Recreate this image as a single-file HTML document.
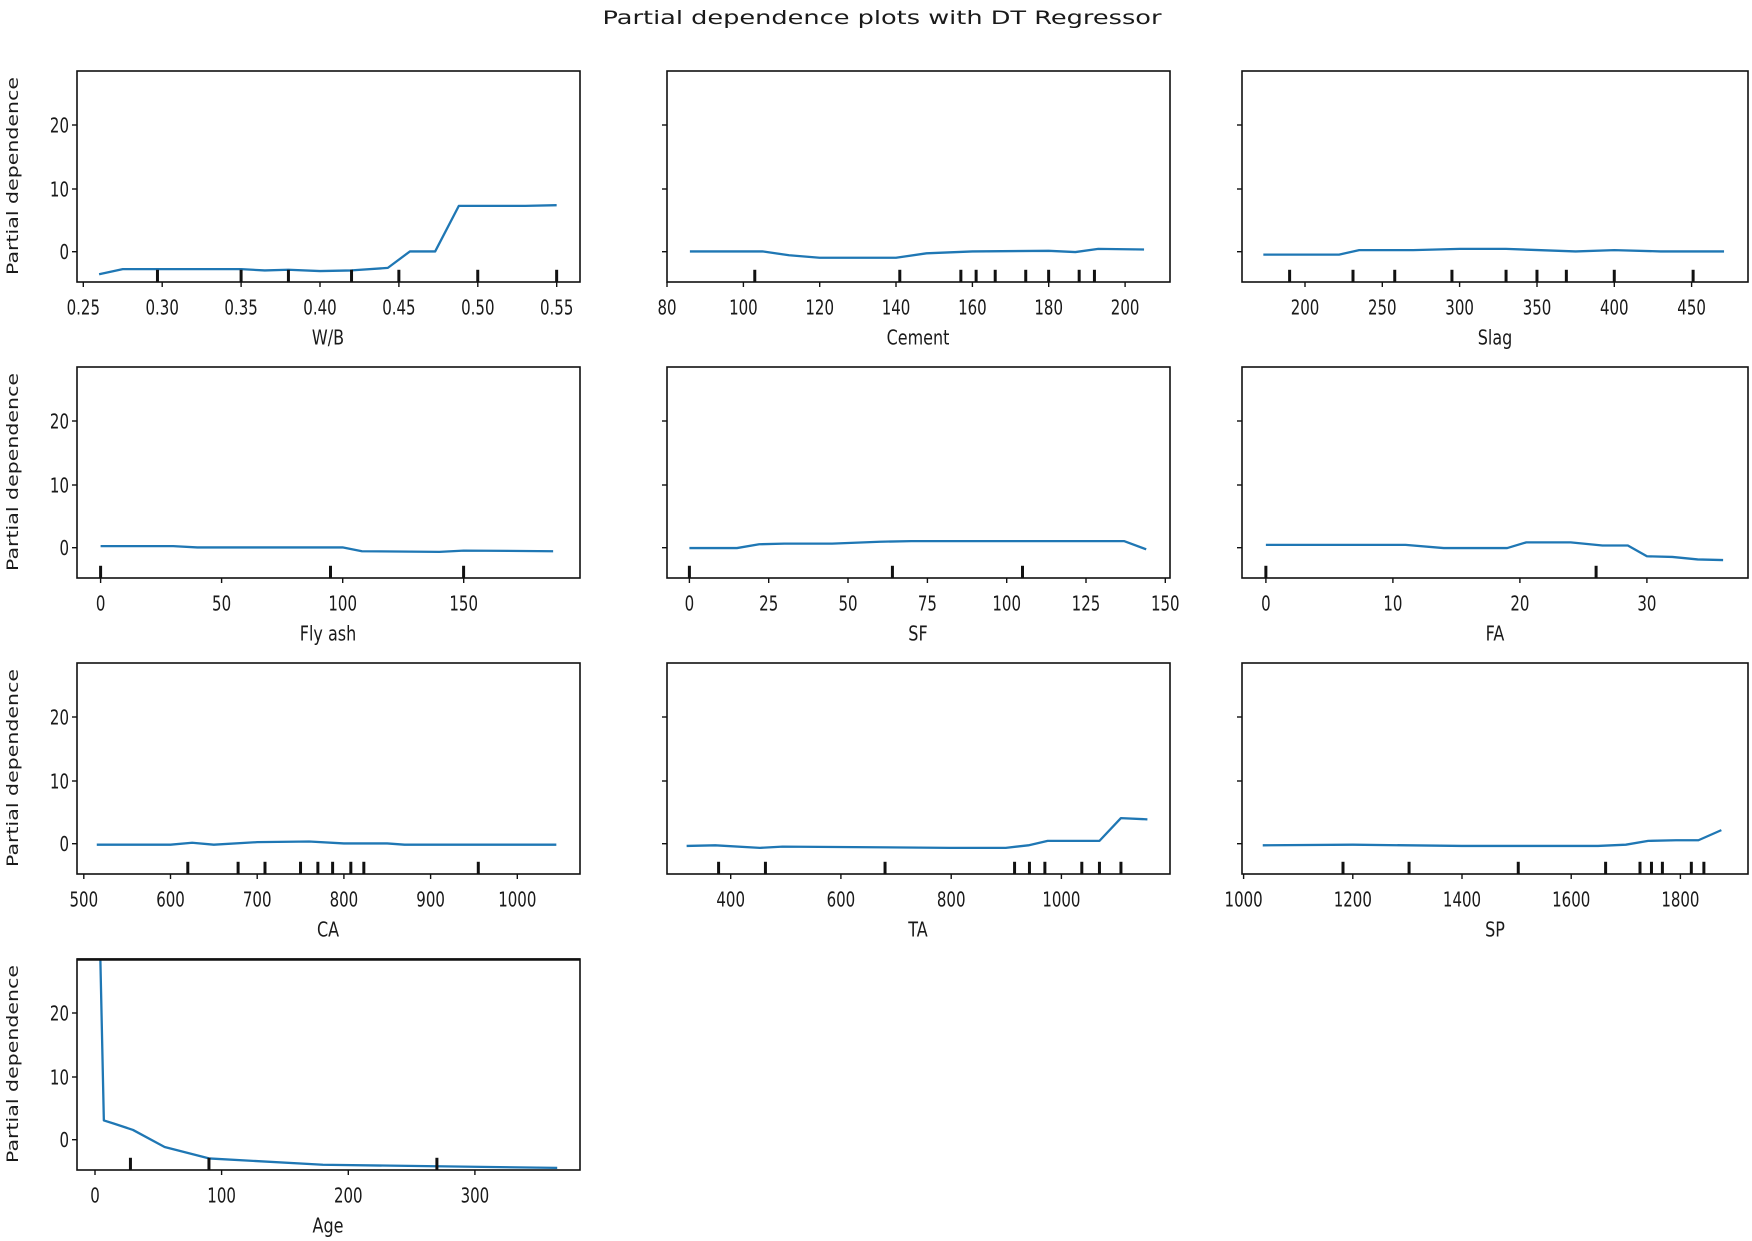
<!DOCTYPE html>
<html><head><meta charset="utf-8"><style>
html,body{margin:0;padding:0;background:#fff;}
svg{display:block;font-family:"DejaVu Sans","Liberation Sans",sans-serif;}
.t{font-size:15px;transform-box:fill-box;transform-origin:center;transform:scaleY(1.35);fill:#1a1a1a;}
.xl{font-size:16px;transform-box:fill-box;transform-origin:center;transform:scaleY(1.3);fill:#1a1a1a;}
.ln{fill:none;stroke:#1f77b4;stroke-width:2.3;vector-effect:non-scaling-stroke;stroke-linejoin:round;}
.rug{stroke:#111;}
.ax{fill:none;stroke:#111;stroke-width:1.6;}
.tk{stroke:#111;stroke-width:1.4;}
</style></head><body>
<svg width="1752" height="1241" viewBox="0 0 1752 1241">
<text x="882" y="24" text-anchor="middle" font-size="19" textLength="559" lengthAdjust="spacingAndGlyphs" fill="#1a1a1a">Partial dependence plots with DT Regressor</text>

<text transform="translate(18,176) rotate(-90)" text-anchor="middle" font-size="16" textLength="198" lengthAdjust="spacingAndGlyphs" fill="#1a1a1a">Partial dependence</text>
<text transform="translate(18,472) rotate(-90)" text-anchor="middle" font-size="16" textLength="198" lengthAdjust="spacingAndGlyphs" fill="#1a1a1a">Partial dependence</text>
<text transform="translate(18,768) rotate(-90)" text-anchor="middle" font-size="16" textLength="198" lengthAdjust="spacingAndGlyphs" fill="#1a1a1a">Partial dependence</text>
<text transform="translate(18,1064) rotate(-90)" text-anchor="middle" font-size="16" textLength="198" lengthAdjust="spacingAndGlyphs" fill="#1a1a1a">Partial dependence</text>

<!-- Panel W/B -->
<g transform="translate(77,71)">
<svg x="0" y="0" width="503" height="211" viewBox="0.246 -28.5 0.3188 33.33" preserveAspectRatio="none" overflow="hidden">
<polyline class="ln" points="0.26,3.6 0.275,2.8 0.35,2.8 0.365,3.0 0.38,2.9 0.40,3.1 0.42,3.0 0.443,2.6 0.457,0 0.473,0 0.488,-7.2 0.53,-7.2 0.55,-7.3"/>
<g class="rug" style="stroke-width:0.0019"><line x1="0.297" x2="0.297" y1="4.9" y2="2.9"/><line x1="0.35" x2="0.35" y1="4.9" y2="2.9"/><line x1="0.38" x2="0.38" y1="4.9" y2="2.9"/><line x1="0.42" x2="0.42" y1="4.9" y2="2.9"/><line x1="0.45" x2="0.45" y1="4.9" y2="2.9"/><line x1="0.50" x2="0.50" y1="4.9" y2="2.9"/><line x1="0.55" x2="0.55" y1="4.9" y2="2.9"/></g>
</svg>
<rect class="ax" x="0" y="0" width="503" height="211"/>
<g class="tk"><line x1="0" x2="-5" y1="54" y2="54"/><line x1="0" x2="-5" y1="118" y2="118"/><line x1="0" x2="-5" y1="180.7" y2="180.7"/>
<line x1="6.3" x2="6.3" y1="211" y2="216"/><line x1="85.2" x2="85.2" y1="211" y2="216"/><line x1="164.1" x2="164.1" y1="211" y2="216"/><line x1="243" x2="243" y1="211" y2="216"/><line x1="321.9" x2="321.9" y1="211" y2="216"/><line x1="400.8" x2="400.8" y1="211" y2="216"/><line x1="479.7" x2="479.7" y1="211" y2="216"/></g>
<g text-anchor="end"><text class="t" x="-8" y="60">20</text><text class="t" x="-8" y="124">10</text><text class="t" x="-8" y="186.5">0</text></g>
<g text-anchor="middle"><text class="t" x="6.3" y="242">0.25</text><text class="t" x="85.2" y="242">0.30</text><text class="t" x="164.1" y="242">0.35</text><text class="t" x="243" y="242">0.40</text><text class="t" x="321.9" y="242">0.45</text><text class="t" x="400.8" y="242">0.50</text><text class="t" x="479.7" y="242">0.55</text>
<text class="xl" x="251" y="272">W/B</text></g>
</g>

<!-- Panel Cement -->
<g transform="translate(667,71)">
<svg x="0" y="0" width="503" height="211" viewBox="80 -28.5 131.8 33.33" preserveAspectRatio="none" overflow="hidden">
<polyline class="ln" points="86,0 105,0 112,0.6 120,1 140,1 148,0.3 160,0 180,-0.1 187,0.1 193,-0.4 205,-0.3"/>
<g class="rug" style="stroke-width:0.786"><line x1="103" x2="103" y1="4.9" y2="2.9"/><line x1="141" x2="141" y1="4.9" y2="2.9"/><line x1="157" x2="157" y1="4.9" y2="2.9"/><line x1="161" x2="161" y1="4.9" y2="2.9"/><line x1="166" x2="166" y1="4.9" y2="2.9"/><line x1="174" x2="174" y1="4.9" y2="2.9"/><line x1="180" x2="180" y1="4.9" y2="2.9"/><line x1="188" x2="188" y1="4.9" y2="2.9"/><line x1="192" x2="192" y1="4.9" y2="2.9"/></g>
</svg>
<rect class="ax" x="0" y="0" width="503" height="211"/>
<g class="tk"><line x1="0" x2="-5" y1="54" y2="54"/><line x1="0" x2="-5" y1="118" y2="118"/><line x1="0" x2="-5" y1="180.7" y2="180.7"/>
<line x1="0" x2="0" y1="211" y2="216"/><line x1="76.4" x2="76.4" y1="211" y2="216"/><line x1="152.7" x2="152.7" y1="211" y2="216"/><line x1="229" x2="229" y1="211" y2="216"/><line x1="305.4" x2="305.4" y1="211" y2="216"/><line x1="381.7" x2="381.7" y1="211" y2="216"/><line x1="458.1" x2="458.1" y1="211" y2="216"/></g>
<g text-anchor="middle"><text class="t" x="0" y="242">80</text><text class="t" x="76.4" y="242">100</text><text class="t" x="152.7" y="242">120</text><text class="t" x="229" y="242">140</text><text class="t" x="305.4" y="242">160</text><text class="t" x="381.7" y="242">180</text><text class="t" x="458.1" y="242">200</text>
<text class="xl" x="251" y="272">Cement</text></g>
</g>

<!-- Panel Slag -->
<g transform="translate(1242,71)">
<svg x="0" y="0" width="506" height="211" viewBox="159.2 -28.5 327.3 33.33" preserveAspectRatio="none" overflow="hidden">
<polyline class="ln" points="173,0.5 222,0.5 235,-0.2 270,-0.2 300,-0.4 330,-0.4 375,0 400,-0.2 430,0 471,0"/>
<g class="rug" style="stroke-width:1.94"><line x1="190" x2="190" y1="4.9" y2="2.9"/><line x1="231" x2="231" y1="4.9" y2="2.9"/><line x1="258" x2="258" y1="4.9" y2="2.9"/><line x1="295" x2="295" y1="4.9" y2="2.9"/><line x1="330" x2="330" y1="4.9" y2="2.9"/><line x1="350" x2="350" y1="4.9" y2="2.9"/><line x1="369" x2="369" y1="4.9" y2="2.9"/><line x1="400" x2="400" y1="4.9" y2="2.9"/><line x1="451" x2="451" y1="4.9" y2="2.9"/></g>
</svg>
<rect class="ax" x="0" y="0" width="506" height="211"/>
<g class="tk"><line x1="0" x2="-5" y1="54" y2="54"/><line x1="0" x2="-5" y1="118" y2="118"/><line x1="0" x2="-5" y1="180.7" y2="180.7"/>
<line x1="63" x2="63" y1="211" y2="216"/><line x1="140.3" x2="140.3" y1="211" y2="216"/><line x1="217.6" x2="217.6" y1="211" y2="216"/><line x1="295" x2="295" y1="211" y2="216"/><line x1="372.3" x2="372.3" y1="211" y2="216"/><line x1="449.6" x2="449.6" y1="211" y2="216"/></g>
<g text-anchor="middle"><text class="t" x="63" y="242">200</text><text class="t" x="140.3" y="242">250</text><text class="t" x="217.6" y="242">300</text><text class="t" x="295" y="242">350</text><text class="t" x="372.3" y="242">400</text><text class="t" x="449.6" y="242">450</text>
<text class="xl" x="253" y="272">Slag</text></g>
</g>

<!-- Panel Fly ash -->
<g transform="translate(77,367)">
<svg x="0" y="0" width="503" height="211" viewBox="-9.75 -28.5 207.85 33.33" preserveAspectRatio="none" overflow="hidden">
<polyline class="ln" points="0,-0.2 30,-0.2 40,0 100,0 108,0.6 140,0.7 150,0.5 187,0.6"/>
<g class="rug" style="stroke-width:1.24"><line x1="0" x2="0" y1="4.9" y2="2.9"/><line x1="95" x2="95" y1="4.9" y2="2.9"/><line x1="150" x2="150" y1="4.9" y2="2.9"/></g>
</svg>
<rect class="ax" x="0" y="0" width="503" height="211"/>
<g class="tk"><line x1="0" x2="-5" y1="54" y2="54"/><line x1="0" x2="-5" y1="118" y2="118"/><line x1="0" x2="-5" y1="180.7" y2="180.7"/>
<line x1="23.6" x2="23.6" y1="211" y2="216"/><line x1="144.6" x2="144.6" y1="211" y2="216"/><line x1="265.7" x2="265.7" y1="211" y2="216"/><line x1="386.7" x2="386.7" y1="211" y2="216"/></g>
<g text-anchor="end"><text class="t" x="-8" y="60">20</text><text class="t" x="-8" y="124">10</text><text class="t" x="-8" y="186.5">0</text></g>
<g text-anchor="middle"><text class="t" x="23.6" y="242">0</text><text class="t" x="144.6" y="242">50</text><text class="t" x="265.7" y="242">100</text><text class="t" x="386.7" y="242">150</text>
<text class="xl" x="251" y="272">Fly ash</text></g>
</g>

<!-- Panel SF -->
<g transform="translate(667,367)">
<svg x="0" y="0" width="503" height="211" viewBox="-7.06 -28.5 158.56 33.33" preserveAspectRatio="none" overflow="hidden">
<polyline class="ln" points="0,0.1 15,0.1 22,-0.5 30,-0.6 45,-0.6 60,-0.9 70,-1.0 90,-1.0 137,-1.0 144,0.3"/>
<g class="rug" style="stroke-width:0.946"><line x1="0" x2="0" y1="4.9" y2="2.9"/><line x1="64" x2="64" y1="4.9" y2="2.9"/><line x1="105" x2="105" y1="4.9" y2="2.9"/></g>
</svg>
<rect class="ax" x="0" y="0" width="503" height="211"/>
<g class="tk"><line x1="0" x2="-5" y1="54" y2="54"/><line x1="0" x2="-5" y1="118" y2="118"/><line x1="0" x2="-5" y1="180.7" y2="180.7"/>
<line x1="22.4" x2="22.4" y1="211" y2="216"/><line x1="101.7" x2="101.7" y1="211" y2="216"/><line x1="181" x2="181" y1="211" y2="216"/><line x1="260.4" x2="260.4" y1="211" y2="216"/><line x1="339.7" x2="339.7" y1="211" y2="216"/><line x1="419" x2="419" y1="211" y2="216"/><line x1="498.3" x2="498.3" y1="211" y2="216"/></g>
<g text-anchor="middle"><text class="t" x="22.4" y="242">0</text><text class="t" x="101.7" y="242">25</text><text class="t" x="181" y="242">50</text><text class="t" x="260.4" y="242">75</text><text class="t" x="339.7" y="242">100</text><text class="t" x="419" y="242">125</text><text class="t" x="498.3" y="242">150</text>
<text class="xl" x="251" y="272">SF</text></g>
</g>

<!-- Panel FA -->
<g transform="translate(1242,367)">
<svg x="0" y="0" width="506" height="211" viewBox="-1.88 -28.5 39.84 33.33" preserveAspectRatio="none" overflow="hidden">
<polyline class="ln" points="0,-0.4 11,-0.4 14,0.1 19,0.1 20.5,-0.8 24,-0.8 26.5,-0.3 28.5,-0.3 30,1.4 32,1.5 34,1.9 36,2.0"/>
<g class="rug" style="stroke-width:0.236"><line x1="0" x2="0" y1="4.9" y2="2.9"/><line x1="26" x2="26" y1="4.9" y2="2.9"/></g>
</svg>
<rect class="ax" x="0" y="0" width="506" height="211"/>
<g class="tk"><line x1="0" x2="-5" y1="54" y2="54"/><line x1="0" x2="-5" y1="118" y2="118"/><line x1="0" x2="-5" y1="180.7" y2="180.7"/>
<line x1="23.9" x2="23.9" y1="211" y2="216"/><line x1="150.9" x2="150.9" y1="211" y2="216"/><line x1="277.9" x2="277.9" y1="211" y2="216"/><line x1="404.9" x2="404.9" y1="211" y2="216"/></g>
<g text-anchor="middle"><text class="t" x="23.9" y="242">0</text><text class="t" x="150.9" y="242">10</text><text class="t" x="277.9" y="242">20</text><text class="t" x="404.9" y="242">30</text>
<text class="xl" x="253" y="272">FA</text></g>
</g>

<!-- Panel CA -->
<g transform="translate(77,663)">
<svg x="0" y="0" width="503" height="211" viewBox="492.2 -28.5 580.1 33.33" preserveAspectRatio="none" overflow="hidden">
<polyline class="ln" points="515,0.2 600,0.2 625,-0.1 650,0.2 700,-0.2 760,-0.3 800,0 850,0 870,0.2 1045,0.2"/>
<g class="rug" style="stroke-width:3.46"><line x1="620" x2="620" y1="4.9" y2="2.9"/><line x1="678" x2="678" y1="4.9" y2="2.9"/><line x1="709" x2="709" y1="4.9" y2="2.9"/><line x1="750" x2="750" y1="4.9" y2="2.9"/><line x1="770" x2="770" y1="4.9" y2="2.9"/><line x1="787" x2="787" y1="4.9" y2="2.9"/><line x1="808" x2="808" y1="4.9" y2="2.9"/><line x1="823" x2="823" y1="4.9" y2="2.9"/><line x1="955" x2="955" y1="4.9" y2="2.9"/></g>
</svg>
<rect class="ax" x="0" y="0" width="503" height="211"/>
<g class="tk"><line x1="0" x2="-5" y1="54" y2="54"/><line x1="0" x2="-5" y1="118" y2="118"/><line x1="0" x2="-5" y1="180.7" y2="180.7"/>
<line x1="6.8" x2="6.8" y1="211" y2="216"/><line x1="93.5" x2="93.5" y1="211" y2="216"/><line x1="180.2" x2="180.2" y1="211" y2="216"/><line x1="266.9" x2="266.9" y1="211" y2="216"/><line x1="353.6" x2="353.6" y1="211" y2="216"/><line x1="440.3" x2="440.3" y1="211" y2="216"/></g>
<g text-anchor="end"><text class="t" x="-8" y="60">20</text><text class="t" x="-8" y="124">10</text><text class="t" x="-8" y="186.5">0</text></g>
<g text-anchor="middle"><text class="t" x="6.8" y="242">500</text><text class="t" x="93.5" y="242">600</text><text class="t" x="180.2" y="242">700</text><text class="t" x="266.9" y="242">800</text><text class="t" x="353.6" y="242">900</text><text class="t" x="440.3" y="242">1000</text>
<text class="xl" x="251" y="272">CA</text></g>
</g>

<!-- Panel TA -->
<g transform="translate(667,663)">
<svg x="0" y="0" width="503" height="211" viewBox="284.4 -28.5 912.6 33.33" preserveAspectRatio="none" overflow="hidden">
<polyline class="ln" points="320,0.4 372,0.3 453,0.7 494,0.5 798,0.7 899,0.7 940,0.3 975,-0.4 1069,-0.4 1108,-4.0 1156,-3.8"/>
<g class="rug" style="stroke-width:5.44"><line x1="378" x2="378" y1="4.9" y2="2.9"/><line x1="463" x2="463" y1="4.9" y2="2.9"/><line x1="680" x2="680" y1="4.9" y2="2.9"/><line x1="915" x2="915" y1="4.9" y2="2.9"/><line x1="942" x2="942" y1="4.9" y2="2.9"/><line x1="970" x2="970" y1="4.9" y2="2.9"/><line x1="1037" x2="1037" y1="4.9" y2="2.9"/><line x1="1069" x2="1069" y1="4.9" y2="2.9"/><line x1="1108" x2="1108" y1="4.9" y2="2.9"/></g>
</svg>
<rect class="ax" x="0" y="0" width="503" height="211"/>
<g class="tk"><line x1="0" x2="-5" y1="54" y2="54"/><line x1="0" x2="-5" y1="118" y2="118"/><line x1="0" x2="-5" y1="180.7" y2="180.7"/>
<line x1="63.7" x2="63.7" y1="211" y2="216"/><line x1="173.9" x2="173.9" y1="211" y2="216"/><line x1="284.2" x2="284.2" y1="211" y2="216"/><line x1="394.4" x2="394.4" y1="211" y2="216"/></g>
<g text-anchor="middle"><text class="t" x="63.7" y="242">400</text><text class="t" x="173.9" y="242">600</text><text class="t" x="284.2" y="242">800</text><text class="t" x="394.4" y="242">1000</text>
<text class="xl" x="251" y="272">TA</text></g>
</g>

<!-- Panel SP -->
<g transform="translate(1242,663)">
<svg x="0" y="0" width="506" height="211" viewBox="997 -28.5 926.8 33.33" preserveAspectRatio="none" overflow="hidden">
<polyline class="ln" points="1035,0.3 1200,0.2 1400,0.4 1649,0.4 1700,0.2 1741,-0.4 1792,-0.5 1833,-0.5 1875,-2.1"/>
<g class="rug" style="stroke-width:5.49"><line x1="1182" x2="1182" y1="4.9" y2="2.9"/><line x1="1303" x2="1303" y1="4.9" y2="2.9"/><line x1="1503" x2="1503" y1="4.9" y2="2.9"/><line x1="1663" x2="1663" y1="4.9" y2="2.9"/><line x1="1726" x2="1726" y1="4.9" y2="2.9"/><line x1="1747" x2="1747" y1="4.9" y2="2.9"/><line x1="1767" x2="1767" y1="4.9" y2="2.9"/><line x1="1820" x2="1820" y1="4.9" y2="2.9"/><line x1="1843" x2="1843" y1="4.9" y2="2.9"/></g>
</svg>
<rect class="ax" x="0" y="0" width="506" height="211"/>
<g class="tk"><line x1="0" x2="-5" y1="54" y2="54"/><line x1="0" x2="-5" y1="118" y2="118"/><line x1="0" x2="-5" y1="180.7" y2="180.7"/>
<line x1="1.6" x2="1.6" y1="211" y2="216"/><line x1="110.8" x2="110.8" y1="211" y2="216"/><line x1="220" x2="220" y1="211" y2="216"/><line x1="329.2" x2="329.2" y1="211" y2="216"/><line x1="438.4" x2="438.4" y1="211" y2="216"/></g>
<g text-anchor="middle"><text class="t" x="1.6" y="242">1000</text><text class="t" x="110.8" y="242">1200</text><text class="t" x="220" y="242">1400</text><text class="t" x="329.2" y="242">1600</text><text class="t" x="438.4" y="242">1800</text>
<text class="xl" x="253" y="272">SP</text></g>
</g>

<!-- Panel Age -->
<g transform="translate(77,959)">
<svg x="0" y="0" width="503" height="211" viewBox="-14.2 -28.5 397.2 33.33" preserveAspectRatio="none" overflow="hidden">
<polyline class="ln" points="3,-40 7,-3 15,-2.5 30,-1.5 55,1.2 90,3 180,4 365,4.5"/>
<g class="rug" style="stroke-width:2.37"><line x1="28" x2="28" y1="4.9" y2="2.9"/><line x1="90" x2="90" y1="4.9" y2="2.9"/><line x1="270" x2="270" y1="4.9" y2="2.9"/></g>
</svg>
<rect class="ax" x="0" y="0" width="503" height="211"/>
<line x1="0" x2="503" y1="0.5" y2="0.5" stroke="#111" stroke-width="2.5"/>
<g class="tk"><line x1="0" x2="-5" y1="54" y2="54"/><line x1="0" x2="-5" y1="118" y2="118"/><line x1="0" x2="-5" y1="180.7" y2="180.7"/>
<line x1="18" x2="18" y1="211" y2="216"/><line x1="144.6" x2="144.6" y1="211" y2="216"/><line x1="271.3" x2="271.3" y1="211" y2="216"/><line x1="397.9" x2="397.9" y1="211" y2="216"/></g>
<g text-anchor="end"><text class="t" x="-8" y="60">20</text><text class="t" x="-8" y="124">10</text><text class="t" x="-8" y="186.5">0</text></g>
<g text-anchor="middle"><text class="t" x="18" y="242">0</text><text class="t" x="144.6" y="242">100</text><text class="t" x="271.3" y="242">200</text><text class="t" x="397.9" y="242">300</text>
<text class="xl" x="251" y="272">Age</text></g>
</g>
</svg>
</body></html>
